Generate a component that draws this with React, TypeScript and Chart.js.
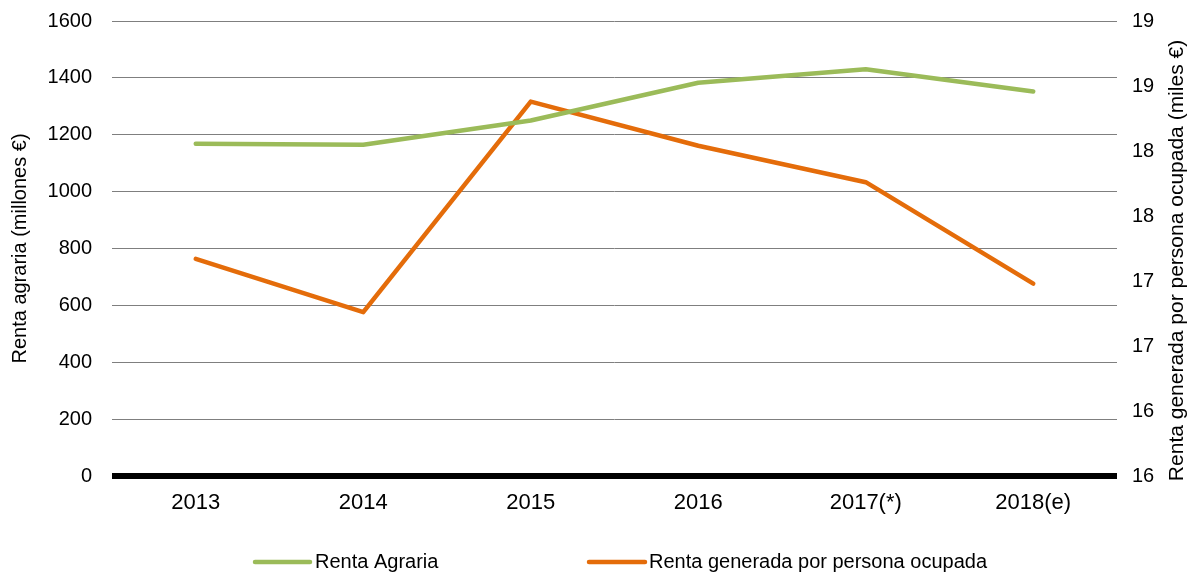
import React, { useEffect, useRef } from "react";
import { Chart, registerables } from "chart.js";

Chart.register(...registerables);

const categories = ["2013", "2014", "2015", "2016", "2017(*)", "2018(e)"];
const rentaAgraria = [1168, 1165, 1250, 1383, 1430, 1352];
const rentaPorOcupado = [17.17, 16.76, 18.38, 18.04, 17.76, 16.98];
const leftAxisRange = [0, 1600];
const leftAxisStep = 200;
const rightAxisRange = [15.5, 19];
const rightAxisStep = 0.5;
const seriesNames = ["Renta Agraria", "Renta generada por persona ocupada"];
const axisTitles = ["Renta agraria (millones €)", "Renta generada por persona ocupada (miles €)"];
const seriesColors = ["#9BBB59", "#E46C0A"];

const FONT = "'Liberation Sans', Arial, Helvetica, sans-serif";
const W = 1197;
const H = 577;

const extrasPlugin = {
  id: "extras",
  afterDraw(chart: any) {
    const { ctx, chartArea } = chart;
    // right axis title (reads bottom to top)
    ctx.save();
    ctx.fillStyle = "#000";
    ctx.font = `21px ${FONT}`;
    ctx.textAlign = "center";
    ctx.textBaseline = "middle";
    const cy = (chartArea.top + chartArea.bottom) / 2 + 12;
    ctx.translate(chart.width - 20, cy);
    ctx.rotate(-Math.PI / 2);
    ctx.fillText(axisTitles[1], 0, 0);
    ctx.restore();

    // legend
    const ly = chart.height - 15;
    const items = [
      { x: 255, w: 55, gap: 5 },
      { x: 589, w: 56, gap: 4 },
    ];
    ctx.save();
    ctx.font = `20px ${FONT}`;
    ctx.textAlign = "left";
    ctx.textBaseline = "middle";
    items.forEach((it, i) => {
      ctx.strokeStyle = seriesColors[i];
      ctx.lineWidth = 4.5;
      ctx.lineCap = "round";
      ctx.beginPath();
      ctx.moveTo(it.x, ly);
      ctx.lineTo(it.x + it.w, ly);
      ctx.stroke();
      ctx.fillStyle = "#000";
      ctx.fillText(seriesNames[i], it.x + it.w + it.gap, ly);
    });
    ctx.restore();
  },
};

export default function App() {
  const canvasRef = useRef<HTMLCanvasElement | null>(null);

  useEffect(() => {
    if (!canvasRef.current) return;
    Chart.defaults.font.family = FONT;
    const chart = new Chart(canvasRef.current, {
      type: "line",
      data: {
        labels: categories,
        datasets: [
          {
            label: seriesNames[0],
            data: rentaAgraria,
            borderColor: seriesColors[0],
            backgroundColor: seriesColors[0],
            borderWidth: 4.5,
            pointRadius: 0,
            pointHoverRadius: 0,
            tension: 0,
            borderCapStyle: "round",
            borderJoinStyle: "round",
            yAxisID: "y",
          },
          {
            label: seriesNames[1],
            data: rentaPorOcupado,
            borderColor: seriesColors[1],
            backgroundColor: seriesColors[1],
            borderWidth: 4.5,
            pointRadius: 0,
            pointHoverRadius: 0,
            tension: 0,
            borderCapStyle: "round",
            borderJoinStyle: "round",
            yAxisID: "y1",
          },
        ],
      },
      options: {
        responsive: false,
        animation: false,
        layout: { padding: { top: 21, left: 8, right: 0, bottom: 0 } },
        plugins: {
          legend: { display: false },
          tooltip: { enabled: false },
        },
        scales: {
          x: {
            type: "category",
            offset: true,
            grid: { display: false, drawTicks: false },
            border: { display: false },
            ticks: {
              color: "#000",
              font: { size: 22 },
              padding: 14,
              maxRotation: 0,
              autoSkip: false,
            },
            afterFit: (s: any) => {
              s.height = 101;
              s.paddingLeft = 0;
              s.paddingRight = 0;
            },
          },
          y: {
            position: "left",
            min: leftAxisRange[0],
            max: leftAxisRange[1],
            ticks: {
              stepSize: leftAxisStep,
              color: "#000",
              font: { size: 20 },
              padding: 20,
              callback: (v: any) => String(v),
            },
            grid: {
              drawTicks: false,
              color: (c: any) => (c.tick && c.tick.value === 0 ? "#000" : "#7f7f7f"),
              lineWidth: (c: any) => (c.tick && c.tick.value === 0 ? 6 : 1),
            },
            border: { display: false },
            title: {
              display: true,
              text: axisTitles[0],
              color: "#000",
              font: { size: 20 },
              padding: 0,
            },
            afterFit: (s: any) => {
              s.width = 104;
              s.paddingTop = 0;
              s.paddingBottom = 0;
            },
          },
          y1: {
            position: "right",
            min: rightAxisRange[0],
            max: rightAxisRange[1],
            ticks: {
              stepSize: rightAxisStep,
              color: "#000",
              font: { size: 20 },
              padding: 15,
              callback: (v: any) => String(Math.round(Number(v))),
            },
            grid: { display: false, drawTicks: false },
            border: { display: false },
            afterFit: (s: any) => {
              s.width = 80;
              s.paddingTop = 0;
              s.paddingBottom = 0;
            },
          },
        },
      },
      plugins: [extrasPlugin],
    });
    return () => chart.destroy();
  }, []);

  return (
    <div style={{ position: "absolute", left: 0, top: 0, width: W, height: H }}>
      <canvas ref={canvasRef} width={W} height={H} style={{ display: "block" }} />
    </div>
  );
}
